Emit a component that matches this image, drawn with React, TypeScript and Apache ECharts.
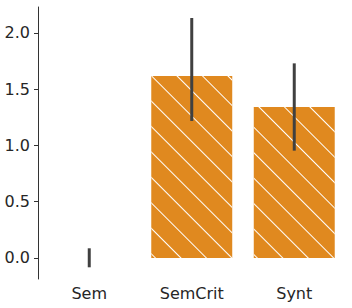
import React, { useEffect, useRef } from "react";
import * as echarts from "echarts";

const categories = ["Sem", "SemCrit", "Synt"];
const means = [0, 1.618, 1.342];
const errLow = [-0.083, 1.218, 0.954];
const errHigh = [0.086, 2.133, 1.73];
const yTicks = [0, 0.5, 1, 1.5, 2];
const yMin = -0.187;
const yMax = 2.231;

export default function App() {
  const ref = useRef<HTMLDivElement>(null);
  useEffect(() => {
    if (!ref.current) return;
    const chart = echarts.init(ref.current, null, { renderer: "svg" });
    const font = "'DejaVu Sans', sans-serif";
    chart.setOption({
      animation: false,
      backgroundColor: "#ffffff",
      grid: { left: 38, right: 6.5, top: 7, bottom: 29, containLabel: false },
      xAxis: {
        type: "category",
        data: categories,
        boundaryGap: true,
        axisLine: { show: false },
        axisTick: { show: false },
        axisLabel: { color: "#262626", fontSize: 16, fontFamily: font, margin: 6 },
        splitLine: { show: false },
      },
      yAxis: {
        type: "value",
        min: yMin,
        max: yMax,
        axisLine: { show: true, lineStyle: { color: "#333333", width: 1 } },
        axisTick: { show: true, length: 4, customValues: yTicks, lineStyle: { color: "#333333" } },
        axisLabel: {
          customValues: yTicks,
          color: "#262626",
          fontSize: 16,
          fontFamily: font,
          margin: 8,
          formatter: (v: number) => v.toFixed(1),
        },
        splitLine: { show: false },
      },
      series: [
        {
          type: "bar",
          data: means,
          barWidth: "79%",
          itemStyle: {
            color: "#e0891f",
            borderRadius: 0,
            decal: {
              symbol: "rect",
              symbolSize: 1,
              color: "#ffffff",
              dashArrayX: [1, 0],
              dashArrayY: [0.8, 16.2],
              rotation: Math.PI / 4,
            },
          },
        },
        {
          type: "custom",
          data: categories.map((_, i) => [i, errLow[i], errHigh[i]]),
          renderItem: (params: any, api: any) => {
            const p1 = api.coord([api.value(0), api.value(1)]);
            const p2 = api.coord([api.value(0), api.value(2)]);
            return {
              type: "line",
              shape: { x1: p1[0], y1: p1[1], x2: p2[0], y2: p2[1] },
              style: { stroke: "#404040", lineWidth: 3 },
            };
          },
          z: 5,
        },
      ],
    });
    return () => chart.dispose();
  }, []);
  return (
    <div
      ref={ref}
      style={{ position: "fixed", left: 0, top: 0, width: 352, height: 308 }}
    />
  );
}
